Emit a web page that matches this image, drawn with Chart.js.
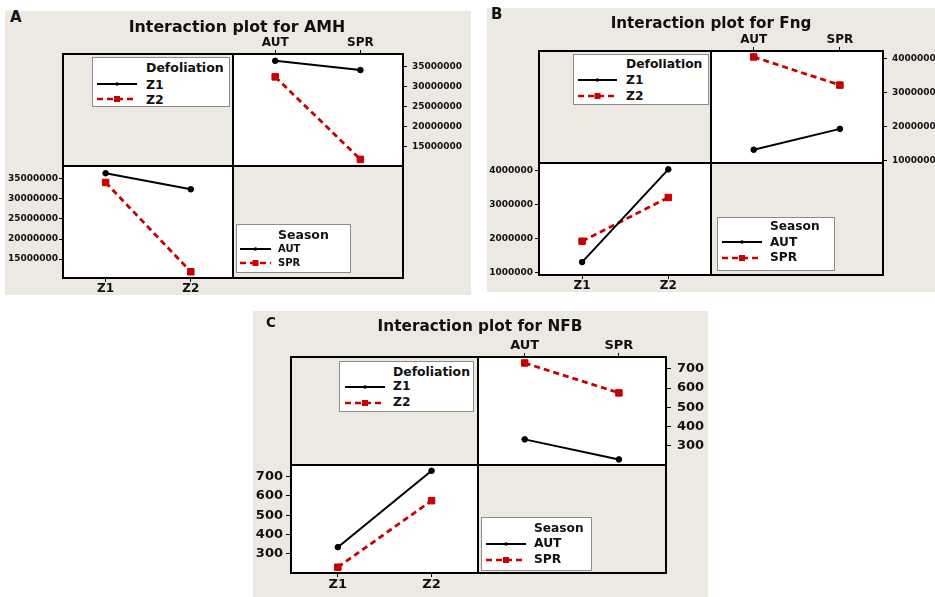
<!DOCTYPE html>
<html>
<head>
<meta charset="utf-8">
<script src="https://cdn.jsdelivr.net/npm/chart.js@4.4.1/dist/chart.umd.min.js"></script>
<style>
  html, body { margin: 0; padding: 0; background: #fff; }
  body { width: 935px; height: 597px; position: relative; overflow: hidden; font-family: "DejaVu Sans", Verdana, sans-serif; }
  .abs { position: absolute; }
  .bg { position: absolute; background: #ece8e2; }
  .quad { position: absolute; background: #fff; }
  .line { position: absolute; background: #000; }
  .frame { position: absolute; border: 2px solid #000; box-sizing: border-box; }
  .txt { position: absolute; font-weight: bold; color: #111; white-space: nowrap; }
  .legbox { position: absolute; background: #fff; border: 1px solid #8c8c8c; box-sizing: border-box; }
  canvas { position: absolute; }
</style>
</head>
<body>
<script>
// categories
const seasons = ['AUT', 'SPR'];
const defol = ['Z1', 'Z2'];

// cell means, ordered [AUT, SPR]
const amhZ1 = [36400000, 34100000];
const amhZ2 = [32400000, 11850000];
const fngZ1 = [1310000, 1925000];
const fngZ2 = [4045000, 3215000];
const nfbZ1 = [334, 230];
const nfbZ2 = [730, 575];

// y tick labels
const amhTicks = [15000000, 20000000, 25000000, 30000000, 35000000];
const fngTicks = [1000000, 2000000, 3000000, 4000000];
const nfbTicks = [300, 400, 500, 600, 700];

const RED = '#c80000';
const FONT = 'DejaVu Sans';

function el(cls, x, y, w, h, html) {
    const d = document.createElement('div');
    d.className = cls;
    d.style.left = x + 'px';
    d.style.top = y + 'px';
    if (w != null) d.style.width = w + 'px';
    if (h != null) d.style.height = h + 'px';
    if (html != null) d.innerHTML = html;
    document.body.appendChild(d);
    return d;
}

function text(str, x, cy, size, align) {
    const lh = Math.round(size * 1.2);
    const d = el('txt', x, cy - lh / 2, null, lh, str);
    d.style.fontSize = size + 'px';
    d.style.lineHeight = lh + 'px';
    if (align === 'center') {
        d.style.width = '400px';
        d.style.left = (x - 200) + 'px';
        d.style.textAlign = 'center';
    }
    return d;
}

function sample(x1, x2, cy, red) {
    const w = x2 - x1;
    const svg = red
        ? `<svg width="${w}" height="10"><line x1="0" y1="5" x2="${w}" y2="5" stroke="${RED}" stroke-width="2.6" stroke-dasharray="6,4"/><rect x="${w / 2 - 3}" y="2" width="6" height="6" fill="${RED}"/></svg>`
        : `<svg width="${w}" height="10"><line x1="0" y1="5" x2="${w}" y2="5" stroke="#000" stroke-width="2"/><circle cx="${w / 2}" cy="5" r="1.8" fill="#000"/></svg>`;
    const d = el('abs', x1, cy - 5, w, 10, svg);
    d.style.lineHeight = '0';
}

function legend(L) {
    el('legbox', L.x, L.y, L.w, L.h);
    text(L.title, L.tx, L.rows[0], L.ts);
    text(L.items[0], L.tx, L.rows[1], L.is);
    text(L.items[1], L.tx, L.rows[2], L.is);
    sample(L.lx1, L.lx2, L.rows[1], false);
    sample(L.lx1, L.lx2, L.rows[2], true);
}

function sets(a, b, names) {
    return [
        { label: names[0], data: a, borderColor: '#000', borderWidth: 2, pointStyle: 'circle',
          pointRadius: 2.8, pointBackgroundColor: '#000', pointBorderColor: '#000', pointBorderWidth: 1, clip: false },
        { label: names[1], data: b, borderColor: RED, borderWidth: 2.8, borderDash: [6, 4], pointStyle: 'rect',
          pointRadius: 4.6, pointBackgroundColor: RED, pointBorderColor: RED, pointBorderWidth: 1, clip: false }
    ];
}

function fixer(size, vertical) {
    return s => {
        if (vertical) s.width = size; else s.height = size;
    };
}

function config(o) {
    return {
        type: 'line',
        data: { labels: o.labels, datasets: o.datasets },
        options: {
            responsive: false,
            animation: false,
            events: [],
            layout: { padding: 0 },
            plugins: { legend: { display: false }, tooltip: { enabled: false } },
            scales: {
                x: {
                    type: 'category', position: o.xPos, offset: true,
                    grid: { drawOnChartArea: false, drawTicks: true, tickLength: 4, color: '#000', lineWidth: 1 },
                    border: { display: false },
                    ticks: { color: '#111', padding: 0, maxRotation: 0, font: { family: FONT, weight: 'bold', size: o.xFont } },
                    afterFit: fixer(o.xSize, false)
                },
                y: {
                    position: o.yPos, min: o.min, max: o.max,
                    grid: { drawOnChartArea: false, drawTicks: true, tickLength: o.tickLen, color: '#000', lineWidth: 1 },
                    border: { display: false },
                    ticks: { color: '#111', padding: o.yPad, font: { family: FONT, weight: 'bold', size: o.yFont }, callback: v => String(v) },
                    afterBuildTicks: s => { s.ticks = o.ticks.map(v => ({ value: v })); },
                    afterFit: fixer(o.ySize, true)
                }
            }
        }
    };
}

// chart whose plot area lands exactly on the page rect o.area = [x0, y0, x1, y1]
function chart(o) {
    const [ax0, ay0, ax1, ay1] = o.area;
    const c = document.createElement('canvas');
    document.body.appendChild(c);
    c.width = ax1 - ax0 + 200; c.height = ay1 - ay0 + 200;
    let ch = new Chart(c.getContext('2d'), config(o));
    const ca = ch.chartArea;
    const mL = ca.left, mT = ca.top, mR = c.width - ca.right, mB = c.height - ca.bottom;
    ch.destroy();
    c.width = Math.round(ax1 - ax0 + mL + mR);
    c.height = Math.round(ay1 - ay0 + mT + mB);
    c.style.left = (ax0 - mL) + 'px';
    c.style.top = (ay0 - mT) + 'px';
    ch = new Chart(c.getContext('2d'), config(o));
}

function panel(P, z1, z2, ticks) {
    el('bg', P.bg[0], P.bg[1], P.bg[2] - P.bg[0], P.bg[3] - P.bg[1]);
    const [x0, y0, x1, y1] = P.frame;
    const xd = P.xd, yd = P.yd;
    el('quad', xd, y0, x1 - xd, yd - y0);
    el('quad', x0, yd, xd - x0, y1 - yd);

    // top-right: Defoliation lines across Season
    chart({
        area: [xd, y0, x1, yd],
        labels: seasons, datasets: sets(z1, z2, defol),
        xPos: 'top', yPos: 'right', xSize: P.top, ySize: P.right,
        xFont: P.catFont, yFont: P.tickFont, tickLen: P.tickLen, yPad: P.padR,
        min: P.min, max: P.max, ticks: ticks
    });
    // bottom-left: Season lines across Defoliation
    chart({
        area: [x0, yd, xd, y1],
        labels: defol, datasets: sets([z1[0], z2[0]], [z1[1], z2[1]], seasons),
        xPos: 'bottom', yPos: 'left', xSize: P.bottom, ySize: P.left,
        xFont: P.catFont, yFont: P.tickFont, tickLen: P.tickLen, yPad: P.padL,
        min: P.min, max: P.max, ticks: ticks
    });

    el('frame', x0 - 1, y0 - 1, x1 - x0 + 2, y1 - y0 + 2);
    el('line', xd - 1, y0, 2, y1 - y0);
    el('line', x0, yd - 1, x1 - x0, 2);

    text(P.letter, P.lpos[0], P.lpos[1], P.lpos[2]);
    text(P.title, P.tpos[0], P.tpos[1], P.tpos[2], 'center');
    legend(P.defLeg);
    legend(P.seaLeg);
}

panel({
    bg: [5, 11, 471, 295], frame: [63, 54, 403, 278], xd: 233, yd: 166,
    top: 25, right: 70, left: 62, bottom: 20, tickLen: 4, padR: 5, padL: 1,
    catFont: 12, tickFont: 9, min: 10300000, max: 38100000,
    letter: 'A', lpos: [10, 17, 15], title: 'Interaction plot for AMH', tpos: [237, 26, 15.8],
    defLeg: { x: 92, y: 57, w: 138, h: 50, title: 'Defoliation', items: defol, tx: 146, rows: [67, 84, 99], ts: 12.5, is: 12.5, lx1: 97, lx2: 137 },
    seaLeg: { x: 236, y: 224, w: 115, h: 49, title: 'Season', items: seasons, tx: 278, rows: [234, 249, 262.5], ts: 12.5, is: 10, lx1: 240, lx2: 271 }
}, amhZ1, amhZ2, amhTicks);

panel({
    bg: [487, 8, 935, 292], frame: [539, 51, 883, 275], xd: 711, yd: 163,
    top: 25, right: 70, left: 52, bottom: 20, tickLen: 4, padR: 5, padL: 2,
    catFont: 12, tickFont: 9, min: 930000, max: 4220000,
    letter: 'B', lpos: [491, 14, 15], title: 'Interaction plot for Fng', tpos: [711, 23, 15.2],
    defLeg: { x: 573, y: 54, w: 136, h: 51, title: 'Defoliation', items: defol, tx: 626, rows: [64.5, 80, 96], ts: 12.3, is: 12.3, lx1: 578, lx2: 617 },
    seaLeg: { x: 717, y: 217, w: 118, h: 54, title: 'Season', items: seasons, tx: 770, rows: [226.5, 242, 257.5], ts: 12.2, is: 12.2, lx1: 722, lx2: 762 }
}, fngZ1, fngZ2, fngTicks);

panel({
    bg: [253, 311, 708, 597], frame: [291, 357, 666, 573], xd: 478, yd: 465,
    top: 25, right: 50, left: 40, bottom: 22, tickLen: 5, padR: 6, padL: 3,
    catFont: 13, tickFont: 13, min: 200, max: 761,
    letter: 'C', lpos: [266, 321.5, 13.5], title: 'Interaction plot for NFB', tpos: [480, 325.5, 15.3],
    defLeg: { x: 339, y: 361, w: 135, h: 51, title: 'Defoliation', items: defol, tx: 393, rows: [371, 386.5, 402.5], ts: 12.4, is: 12.3, lx1: 345, lx2: 385 },
    seaLeg: { x: 481, y: 517, w: 111, h: 54, title: 'Season', items: seasons, tx: 534, rows: [528, 543.5, 559.5], ts: 12.2, is: 12.3, lx1: 486, lx2: 526 }
}, nfbZ1, nfbZ2, nfbTicks);
</script>
</body>
</html>
